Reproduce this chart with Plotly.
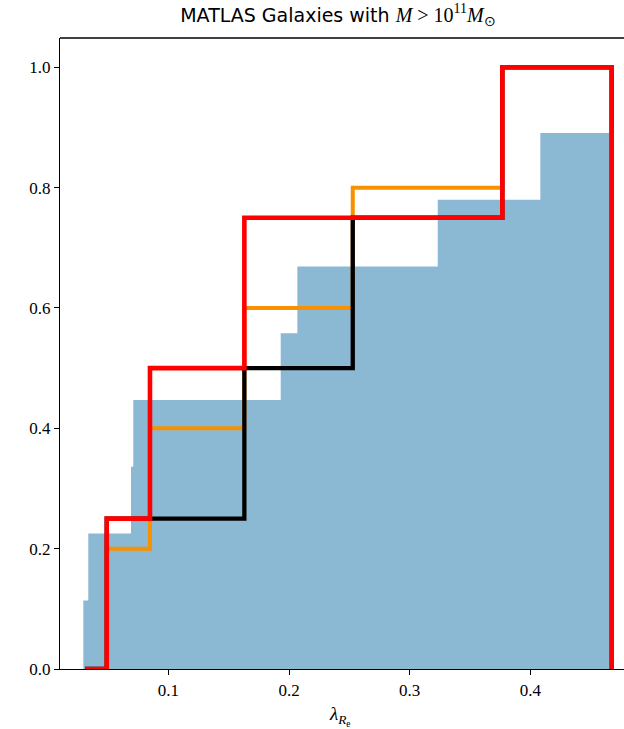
import plotly.graph_objects as go

# ---- data ----
# blue cumulative filled histogram (edges and heights between edges)
blue_edges = [0.0296, 0.0337, 0.0691, 0.0710, 0.1931, 0.2069, 0.3232, 0.4082, 0.4654]
blue_heights = [0.114, 0.225, 0.336, 0.447, 0.558, 0.669, 0.780, 0.891]

# step (cumulative) histograms sharing the same bin edges
step_edges = [0.031, 0.049, 0.0848, 0.163, 0.2528, 0.3767, 0.4673]
orange_vals = [0.0, 0.2, 0.4, 0.6, 0.8, 1.0]
black_vals = [0.0, 0.25, 0.25, 0.5, 0.75, 1.0]
red_vals = [0.0, 0.25, 0.5, 0.75, 0.75, 1.0]

x_ticks = [0.1, 0.2, 0.3, 0.4]
y_ticks = [0.0, 0.2, 0.4, 0.6, 0.8, 1.0]


def step_outline(edges, vals):
    xs = [edges[0]]
    ys = [0.0]
    for i, v in enumerate(vals):
        xs += [edges[i], edges[i + 1]]
        ys += [v, v]
    xs.append(edges[-1])
    ys.append(0.0)
    return xs, ys


fig = go.Figure()

fig.add_trace(go.Scatter(
    x=blue_edges, y=blue_heights + [blue_heights[-1]],
    mode="lines", line=dict(shape="hv", width=0, color="rgba(0,0,0,0)"),
    fill="tozeroy", fillcolor="rgb(139,184,211)", hoverinfo="skip", showlegend=False))

for vals, color, w in [(orange_vals, "rgb(248,145,0)", 4),
                       (black_vals, "black", 4.3),
                       (red_vals, "rgb(255,0,0)", 4.6)]:
    xs, ys = step_outline(step_edges, vals)
    fig.add_trace(go.Scatter(x=xs, y=ys, mode="lines",
                             line=dict(color=color, width=w),
                             showlegend=False))

math = ("<span style=\"font-family:'Liberation Serif';font-size:20px\"><i>M</i> &gt; 10<sup>11</sup>"
        "<i>M</i><sub>⊙</sub></span>")

fig.update_layout(
    width=624, height=729,
    margin=dict(l=60, r=0, t=38, b=60),
    plot_bgcolor="white", paper_bgcolor="white",
    title=dict(text="MATLAS Galaxies with " + math,
               x=338 / 624, xanchor="center", y=1 - 15 / 729, yanchor="middle",
               font=dict(family="DejaVu Sans", size=19, color="black")),
    font=dict(family="Liberation Serif", size=17, color="black"),
    xaxis=dict(range=[0.01027, 0.4775], tickvals=x_ticks, ticktext=[f"{v:.1f}" for v in x_ticks],
               showgrid=False, zeroline=False, showline=True, linecolor="black", linewidth=1.3,
               ticks="outside", ticklen=5, tickwidth=1.3, tickcolor="black"),
    yaxis=dict(range=[0, 1.0487], tickvals=y_ticks, ticktext=[f"{v:.1f}" for v in y_ticks],
               showgrid=False, zeroline=False, showline=True, linecolor="black", linewidth=1.3,
               ticks="outside", ticklen=5, tickwidth=1.3, tickcolor="black"),
    shapes=[dict(type="line", xref="paper", yref="paper", x0=0, x1=1, y0=1, y1=1,
                 line=dict(color="black", width=1.3))],
    annotations=[dict(text="<i>λ</i><sub><i>R</i><sub>e</sub></sub>", xref="paper", yref="paper",
                      x=(340 - 60) / 564, y=-(716 - 669) / 631, xanchor="center", yanchor="middle",
                      showarrow=False, font=dict(family="Liberation Serif", size=19, color="black"))],
)

fig.write_html("out.html")
